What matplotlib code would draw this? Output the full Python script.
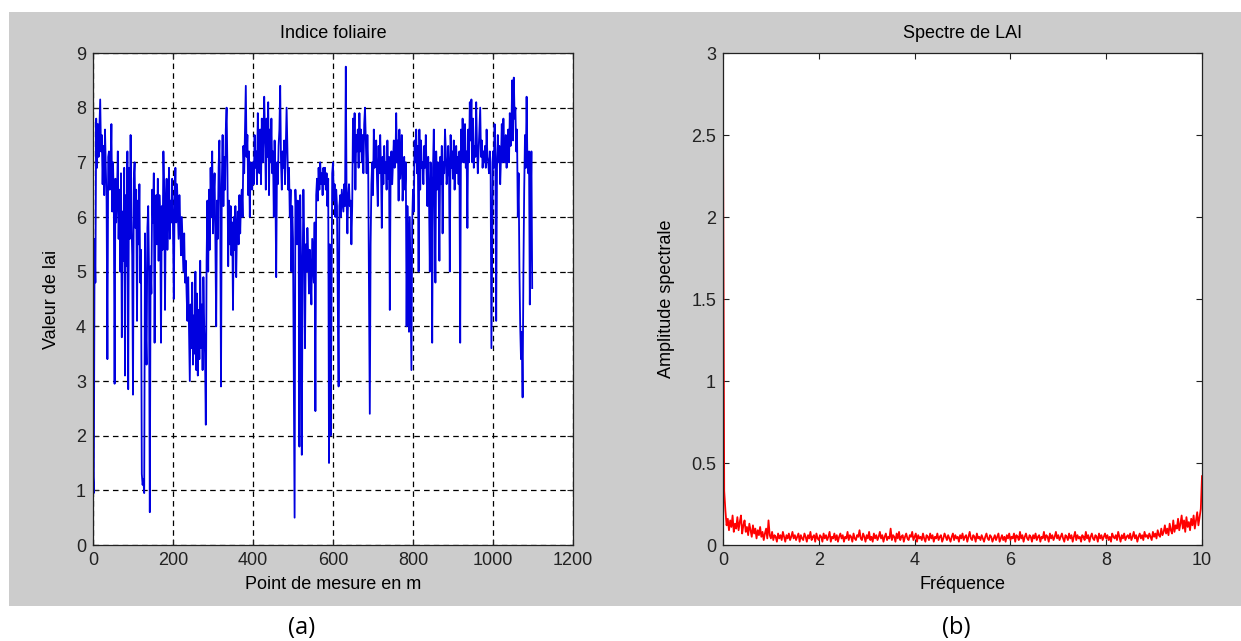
import numpy as np
import matplotlib
matplotlib.use('Agg')
import matplotlib.pyplot as plt
from matplotlib.patches import Rectangle
from matplotlib.ticker import FuncFormatter

# police proche d'Arial (style MATLAB)
plt.rcParams['font.family'] = ['Liberation Sans', 'DejaVu Sans']
plt.rcParams['lines.scale_dashes'] = False

# pas de mesure (m) et valeurs de l'indice foliaire
pas_mesure = 2
lai = [
    1.3, 0.95, 5.6, 4.8, 7.8, 6.9, 7.7, 7.1, 7.6, 8.15, 7.2, 7.5, 6.6, 7.3, 6.4, 7.6, 6.9, 6.3, 3.4, 7.1,
    7.2, 6.5, 6.8, 7.7, 6.1, 7.0, 6.3, 2.95, 6.7, 5.9, 6.4, 7.2, 5.6, 6.5, 5.0, 6.8, 3.8, 6.1, 5.2, 6.9,
    3.1, 6.4, 5.1, 7.2, 2.85, 6.9, 5.6, 7.5, 6.0, 5.3, 2.75, 6.7, 7.0, 5.8, 6.5, 4.1, 6.3, 5.5, 6.6, 4.8,
    5.4, 1.3, 1.1, 1.2, 0.95, 5.7, 4.0, 3.3, 5.8, 6.2, 5.0, 0.6, 5.1, 4.6, 6.5, 5.9, 6.8, 3.7, 6.0, 6.4,
    5.5, 6.7, 5.2, 6.4, 6.0, 3.7, 6.2, 5.4, 7.2, 6.5, 4.3, 6.2, 6.7, 5.4, 6.1, 6.9, 5.6, 6.3, 5.9, 6.7,
    5.8, 4.5, 6.3, 6.9, 5.9, 6.6, 6.1, 5.6, 6.4, 5.9, 5.3, 6.0, 5.5, 5.0, 5.7, 4.8, 5.2, 4.6, 4.1, 4.9,
    4.0, 3.0, 4.4, 3.6, 4.8, 3.3, 4.2, 3.5, 5.0, 3.2, 4.6, 3.1, 4.3, 3.4, 5.2, 3.6, 4.4, 3.2, 4.9, 4.0,
    3.5, 2.2, 5.2, 6.3, 5.0, 6.5, 5.4, 6.9, 6.0, 7.2, 5.7, 6.4, 6.8, 5.5, 4.0, 6.3, 5.6, 6.9, 7.4, 6.2,
    2.9, 6.6, 7.5, 6.2, 7.1, 6.5, 7.6, 8.0, 6.9, 5.1, 6.3, 5.5, 6.2, 5.3, 5.9, 4.3, 6.0, 5.4, 6.2, 4.9,
    5.8, 6.1, 5.5, 6.4, 5.7, 6.3, 6.5, 6.0, 7.3, 6.8, 7.6, 8.4, 7.1, 7.5, 6.4, 7.2, 6.0, 7.0, 6.8, 6.5,
    7.0, 6.6, 7.5, 6.9, 7.2, 6.6, 7.9, 7.3, 6.8, 7.6, 6.6, 7.8, 7.0, 7.4, 8.2, 7.5, 6.5, 7.8, 7.1, 8.1,
    6.4, 7.6, 7.0, 7.8, 6.8, 7.2, 6.0, 7.4, 6.5, 4.9, 7.0, 6.6, 7.3, 7.6, 8.4, 7.0, 6.5, 7.2, 6.9, 7.4,
    6.6, 7.3, 8.0, 7.2, 6.5, 6.9, 6.0, 6.5, 5.0, 6.2, 5.6, 2.9, 0.5, 6.5, 6.0, 5.5, 6.3, 6.0, 1.8, 6.4,
    5.2, 1.65, 5.0, 6.5, 5.6, 3.6, 5.5, 5.0, 5.8, 5.3, 4.6, 5.4, 5.0, 4.4, 5.6, 5.2, 4.8, 5.9, 2.45, 6.4,
    6.7, 6.3, 6.9, 6.5, 7.0, 6.6, 6.8, 6.4, 6.9, 6.6, 6.9, 6.5, 6.8, 6.2, 6.7, 1.5, 5.5, 2.0, 4.0, 6.8,
    7.0, 6.3, 6.6, 6.0, 6.5, 6.2, 4.4, 2.9, 6.2, 6.4, 6.0, 6.5, 6.3, 6.1, 6.6, 6.2, 8.75, 6.3, 5.7, 6.4,
    6.6, 6.2, 6.3, 5.5, 6.2, 7.8, 7.0, 7.9, 6.5, 7.5, 7.2, 7.6, 6.9, 7.9, 7.2, 7.6, 7.0, 7.5, 6.8, 7.7,
    8.0, 7.4, 6.8, 7.5, 6.9, 4.5, 2.4, 5.5, 6.6, 7.0, 6.4, 7.6, 6.9, 7.0, 7.4, 6.7, 6.2, 7.3, 6.8, 7.5,
    6.9, 5.8, 7.1, 6.6, 7.3, 6.8, 7.0, 6.5, 7.4, 6.7, 7.1, 4.3, 6.8, 7.2, 6.6, 7.0, 7.4, 6.9, 7.0, 7.9,
    7.0, 7.4, 6.3, 7.6, 6.7, 7.0, 7.5, 6.3, 6.8, 7.1, 6.5, 7.0, 4.0, 6.2, 5.5, 3.9, 6.0, 4.5, 3.2, 5.9,
    6.5, 6.1, 7.4, 7.0, 7.6, 6.8, 7.3, 5.0, 7.6, 6.5, 7.4, 6.9, 7.0, 6.6, 7.3, 6.9, 7.5, 6.8, 6.2, 7.1,
    6.4, 5.0, 7.0, 6.6, 3.7, 6.9, 7.6, 6.3, 4.8, 7.2, 6.5, 7.0, 6.7, 5.2, 7.1, 6.6, 7.3, 5.7, 7.0, 6.8,
    7.6, 7.2, 6.6, 6.8, 7.3, 6.9, 5.0, 7.5, 6.9, 7.2, 6.7, 7.4, 6.5, 7.0, 7.3, 6.8, 7.1, 6.6, 7.2, 3.7,
    7.6, 7.0, 7.8, 7.2, 7.0, 7.7, 6.9, 7.2, 5.8, 7.6, 7.0, 8.1, 7.4, 8.15, 7.0, 7.8, 6.9, 7.3, 7.1, 8.1,
    7.3, 6.8, 7.2, 7.6, 8.0, 7.1, 7.4, 6.9, 7.2, 7.0, 7.3, 6.9, 7.6, 7.1, 7.0, 6.8, 7.2, 7.0, 3.6, 5.5,
    7.2, 6.9, 7.7, 7.1, 4.1, 6.9, 7.5, 7.0, 7.3, 6.6, 7.1, 7.7, 7.0, 7.8, 7.2, 7.0, 7.5, 6.9, 7.3, 7.6,
    7.0, 7.9, 7.3, 7.6, 8.5, 7.4, 8.55, 7.8, 8.0, 7.2, 7.6, 6.0, 6.8, 5.1, 4.0, 3.4, 3.9, 2.7, 5.0, 6.5,
    7.5, 6.9, 8.2, 7.0, 6.8, 7.2, 4.4, 6.0, 7.2, 4.7,
]

# amplitude spectrale, frequences de 0 a 10 par pas de 0.025
pas_freq = 0.025
amplitude = [
    2.63, 0.33, 0.21, 0.12, 0.16, 0.09, 0.15, 0.11, 0.18, 0.08, 0.13, 0.10, 0.17, 0.09, 0.14, 0.18, 0.07, 0.12, 0.15, 0.08,
    0.11, 0.06, 0.13, 0.09, 0.05, 0.12, 0.07, 0.10, 0.04, 0.09, 0.06, 0.11, 0.05, 0.08, 0.03, 0.07, 0.10, 0.04, 0.15, 0.06,
    0.04, 0.08, 0.03, 0.06, 0.05, 0.02, 0.07, 0.04, 0.06, 0.03, 0.08, 0.05, 0.02, 0.06, 0.04, 0.07, 0.03, 0.05, 0.08, 0.04,
    0.06, 0.03, 0.05, 0.07, 0.02, 0.06, 0.04, 0.03, 0.07, 0.05, 0.02, 0.06, 0.04, 0.08, 0.03, 0.05, 0.06, 0.02, 0.07, 0.04,
    0.03, 0.06, 0.05, 0.02, 0.07, 0.04, 0.06, 0.03, 0.05, 0.08, 0.02, 0.05, 0.04, 0.07, 0.03, 0.06, 0.02, 0.05, 0.07, 0.04,
    0.06, 0.02, 0.05, 0.04, 0.08, 0.03, 0.06, 0.05, 0.02, 0.07, 0.04, 0.03, 0.06, 0.05, 0.09, 0.04, 0.03, 0.07, 0.05, 0.02,
    0.06, 0.04, 0.08, 0.03, 0.05, 0.02, 0.07, 0.04, 0.06, 0.03, 0.05, 0.08, 0.04, 0.06, 0.02, 0.05, 0.07, 0.03, 0.05, 0.04,
    0.10, 0.03, 0.06, 0.05, 0.02, 0.07, 0.04, 0.08, 0.03, 0.05, 0.06, 0.02, 0.05, 0.07, 0.04, 0.03, 0.06, 0.05, 0.08, 0.03,
    0.05, 0.07, 0.02, 0.06, 0.04, 0.05, 0.03, 0.07, 0.04, 0.02, 0.06, 0.05, 0.03, 0.07, 0.04, 0.06, 0.02, 0.05, 0.04, 0.07,
    0.03, 0.05, 0.06, 0.02, 0.04, 0.07, 0.05, 0.03, 0.06, 0.04, 0.02, 0.05, 0.07, 0.03, 0.06, 0.04, 0.05, 0.02, 0.06, 0.04,
    0.07, 0.03, 0.05, 0.06, 0.02, 0.05, 0.08, 0.04, 0.03, 0.06, 0.05, 0.02, 0.07, 0.04, 0.05, 0.03, 0.06, 0.04, 0.02, 0.05,
    0.07, 0.04, 0.03, 0.06, 0.05, 0.02, 0.04, 0.06, 0.03, 0.05, 0.07, 0.02, 0.04, 0.06, 0.03, 0.05, 0.02, 0.06, 0.04, 0.07,
    0.03, 0.05, 0.04, 0.07, 0.02, 0.06, 0.05, 0.03, 0.08, 0.04, 0.06, 0.02, 0.05, 0.07, 0.04, 0.03, 0.06, 0.05, 0.02, 0.06,
    0.04, 0.07, 0.03, 0.05, 0.06, 0.02, 0.05, 0.04, 0.08, 0.03, 0.06, 0.05, 0.02, 0.07, 0.04, 0.06, 0.03, 0.05, 0.08, 0.04,
    0.06, 0.03, 0.05, 0.07, 0.04, 0.02, 0.06, 0.05, 0.03, 0.07, 0.04, 0.06, 0.02, 0.05, 0.08, 0.03, 0.06, 0.04, 0.05, 0.02,
    0.06, 0.05, 0.03, 0.08, 0.04, 0.06, 0.02, 0.05, 0.07, 0.04, 0.03, 0.06, 0.05, 0.02, 0.07, 0.04, 0.06, 0.03, 0.05, 0.07,
    0.04, 0.06, 0.03, 0.05, 0.02, 0.07, 0.05, 0.04, 0.06, 0.03, 0.08, 0.05, 0.02, 0.06, 0.04, 0.07, 0.03, 0.05, 0.06, 0.04,
    0.07, 0.03, 0.05, 0.08, 0.04, 0.06, 0.02, 0.05, 0.07, 0.04, 0.06, 0.03, 0.08, 0.05, 0.06, 0.04, 0.07, 0.05, 0.03, 0.08,
    0.05, 0.07, 0.04, 0.09, 0.06, 0.05, 0.10, 0.06, 0.08, 0.12, 0.07, 0.10, 0.06, 0.13, 0.09, 0.07, 0.15, 0.08, 0.12, 0.10,
    0.16, 0.09, 0.13, 0.18, 0.10, 0.15, 0.08, 0.17, 0.11, 0.14, 0.09, 0.16, 0.12, 0.18, 0.10, 0.15, 0.20, 0.12, 0.17, 0.22,
    0.42,
]

W, H = 1241, 641
fig = plt.figure(figsize=(W / 100, H / 100), dpi=100, facecolor='white')

# fond gris de la fenetre MATLAB
fig.patches.append(Rectangle((9 / W, 35 / H), 1, 594 / H, transform=fig.transFigure,
                             facecolor='#cccccc', edgecolor='none', zorder=-10))

taille = 13


def style_axes(ax):
    for s in ax.spines.values():
        s.set_linewidth(0.9)
        s.set_color('#222222')
    ax.tick_params(direction='in', top=True, right=True, length=4, width=0.8,
                   labelsize=taille, pad=5, colors='#222222')
    ax.set_facecolor('white')


# (a) indice foliaire
ax1 = fig.add_axes([93 / W, 96 / H, 480 / W, 492 / H])
x_lai = np.arange(len(lai)) * pas_mesure
ax1.plot(x_lai, lai, color='#0000e0', lw=1.3)
ax1.set_xlim(0, 1200)
ax1.set_ylim(0, 9)
ax1.set_xticks(range(0, 1201, 200))
ax1.set_yticks(range(0, 10))
ax1.grid(True, color='black', linestyle=(0, (4, 3)), linewidth=0.9)
style_axes(ax1)
ax1.set_title('Indice foliaire', fontsize=taille, pad=11)
ax1.set_xlabel('Point de mesure en m', fontsize=taille)
ax1.set_ylabel('Valeur de lai', fontsize=taille)
ax1.xaxis.set_label_coords(0.5, -0.063)
ax1.yaxis.set_label_coords(-0.069, 0.5)

# (b) spectre
ax2 = fig.add_axes([723 / W, 96 / H, 479 / W, 492 / H])
x_freq = np.arange(len(amplitude)) * pas_freq
ax2.plot(x_freq, amplitude, color='red', lw=1.3)
ax2.set_xlim(0, 10)
ax2.set_ylim(0, 3)
ax2.set_xticks(range(0, 11, 2))
ax2.set_yticks(np.arange(0, 3.01, 0.5))
ax2.yaxis.set_major_formatter(FuncFormatter(lambda v, p: f'{v:g}'))
style_axes(ax2)
ax2.set_title('Spectre de LAI', fontsize=taille, pad=11)
ax2.set_xlabel('Fréquence', fontsize=taille)
ax2.set_ylabel('Amplitude spectrale', fontsize=taille)
ax2.xaxis.set_label_coords(0.5, -0.063)
ax2.yaxis.set_label_coords(-0.100, 0.5)

# legendes sous les panneaux
fig.text(302 / W, 1 - 628 / H, '(a)', ha='center', va='center', fontsize=17,
         family=['Open Sans', 'DejaVu Sans'])
fig.text(956 / W, 1 - 628 / H, '(b)', ha='center', va='center', fontsize=17,
         family=['Open Sans', 'DejaVu Sans'])

fig.savefig('out.png', dpi=100)
